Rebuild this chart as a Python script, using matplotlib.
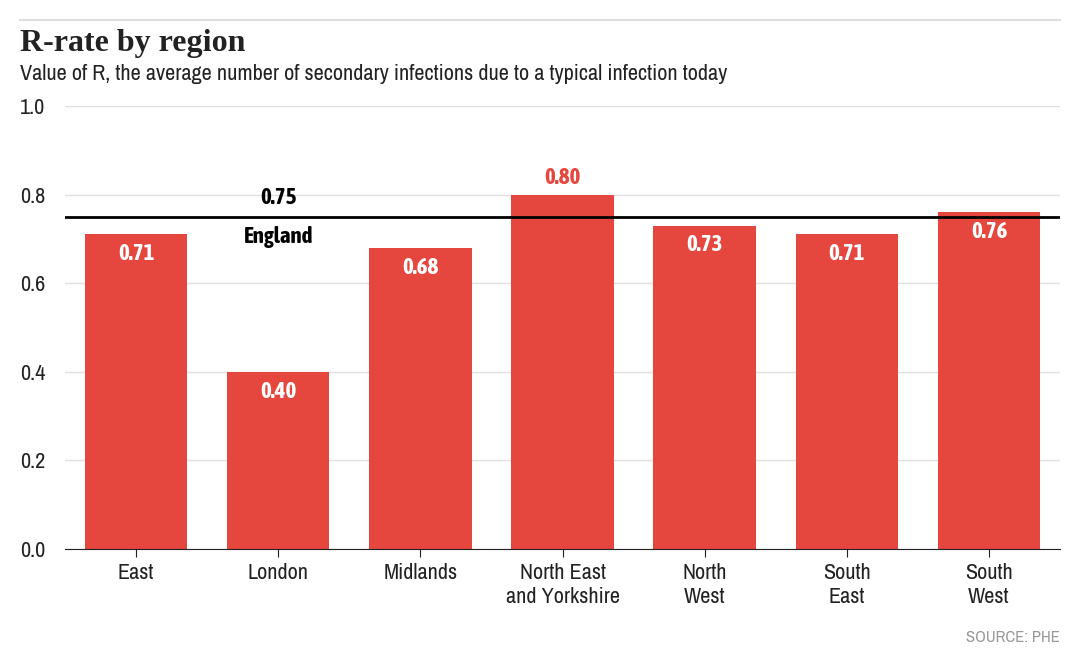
import matplotlib.pyplot as plt
from matplotlib import font_manager
from matplotlib.lines import Line2D

# Dados
regions = ["East", "London", "Midlands", "North East\nand Yorkshire",
           "North\nWest", "South\nEast", "South\nWest"]
r_values = [0.71, 0.40, 0.68, 0.80, 0.73, 0.71, 0.76]
england_r = 0.75
y_ticks = [0.0, 0.2, 0.4, 0.6, 0.8, 1.0]

red = "#e5473f"


def is_bold(w):
    if isinstance(w, str):
        return w in ("bold", "heavy", "black", "semibold", "demibold", "extra bold")
    return w >= 600


# procurar fontes condensadas instaladas (normal e negrito)
entries = font_manager.fontManager.ttflist
cond = sorted({f.name for f in entries if "Condensed" in f.name or "Narrow" in f.name})
cond_bold = sorted({f.name for f in entries
                    if ("Condensed" in f.name or "Narrow" in f.name) and is_bold(f.weight)})
narrow = cond[:1] + ["Lato", "DejaVu Sans"]
narrow_b = cond_bold[:1] + ["Roboto", "DejaVu Sans"]
bsize = 16.5

fig = plt.figure(figsize=(10.8, 6.59), dpi=100)
ax = fig.add_axes([0.0602, 0.1669, 0.9213, 0.6722])

x = range(len(regions))
ax.bar(x, r_values, width=0.72, color=red, zorder=2)

for xi, v in zip(x, r_values):
    if v >= 0.8:
        ax.text(xi, v + 0.012, f"{v:.2f}", ha="center", va="bottom",
                color=red, fontsize=bsize, fontweight="bold", family=narrow_b)
    else:
        ax.text(xi, v - 0.02, f"{v:.2f}", ha="center", va="top",
                color="white", fontsize=bsize, fontweight="bold", family=narrow_b)

# Linha da Inglaterra
ax.axhline(england_r, color="black", lw=2, zorder=3)
ax.text(1, england_r + 0.018, f"{england_r:.2f}", ha="center", va="bottom",
        fontsize=bsize, fontweight="bold", family=narrow_b)
ax.text(1, england_r - 0.02, "England", ha="center", va="top",
        fontsize=bsize, fontweight="bold", family=narrow_b)

ax.set_xlim(-0.5, 6.5)
ax.set_ylim(0, 1.0)
ax.set_yticks(y_ticks)
ax.set_yticklabels([f"{t:.1f}" for t in y_ticks])
ax.set_xticks(list(x))
ax.set_xticklabels(regions, linespacing=1.25)
ax.grid(axis="y", color="#e0e0e0", lw=1, zorder=0)
for s in ["top", "right", "left"]:
    ax.spines[s].set_visible(False)
ax.spines["bottom"].set_color("#222222")
ax.tick_params(axis="y", length=0, pad=32.4, labelsize=16)
ax.tick_params(axis="x", length=6, color="#222222", pad=4, labelsize=16)
for lab in ax.get_yticklabels() + ax.get_xticklabels():
    lab.set_family(narrow)
    lab.set_color("#222222")
for lab in ax.get_yticklabels():
    lab.set_horizontalalignment("left")

# Título e fonte
fig.add_artist(Line2D([20 / 1080, 1060 / 1080], [1 - 20 / 659, 1 - 20 / 659],
                      color="#dddddd", lw=1.5))
fig.text(20 / 1080, 1 - 43 / 659, "R-rate by region", fontsize=23,
         fontweight="bold", family=["Liberation Serif", "DejaVu Serif"],
         va="center", color="#222222")
fig.text(20 / 1080, 1 - 74 / 659,
         "Value of R, the average number of secondary infections due to a typical infection today",
         fontsize=16, family=narrow, va="center", color="#222222")
fig.text(1060 / 1080, 1 - 638 / 659, "SOURCE: PHE", fontsize=12,
         family=narrow, color="#999999", ha="right", va="center")

fig.savefig("out.png", dpi=100)
